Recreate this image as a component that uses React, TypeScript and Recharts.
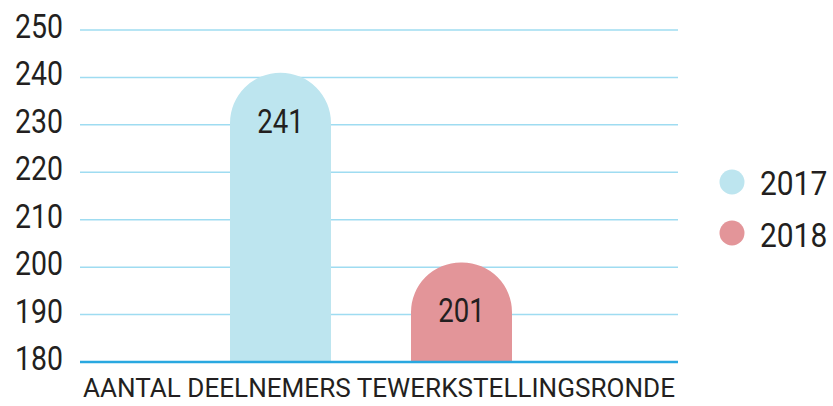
import React from 'react';
import { BarChart, Bar, XAxis, YAxis, CartesianGrid, LabelList } from 'recharts';

const categories = ['AANTAL DEELNEMERS TEWERKSTELLINGSRONDE'];
const values2017 = [241];
const values2018 = [201];
const yTicks = [180, 190, 200, 210, 220, 230, 240, 250];
const seriesNames = ['2017', '2018'];
const colors = ['#bde5ef', '#e39599'];

const data = categories.map((c, i) => ({ name: c, v2017: values2017[i], v2018: values2018[i] }));

const FONT = 'Roboto, "DejaVu Sans Condensed", sans-serif';
const TEXT = '#231f20';

const YTick = (props: any) => {
  const { y, payload } = props;
  const s = String(payload.value);
  return (
    <text x={63} y={y + 8} textAnchor="end" fontSize={33} fill={TEXT} fontFamily={FONT} textLength={s.length * 16} lengthAdjust="spacingAndGlyphs">
      {s}
    </text>
  );
};

const XLabel = (props: any) => {
  const vb = props.viewBox || {};
  const cx = vb.x + vb.width / 2;
  return (
    <text x={cx} y={397} textAnchor="middle" fontSize={25} fill={TEXT} fontFamily={FONT} textLength={592} lengthAdjust="spacingAndGlyphs">
      {categories[0]}
    </text>
  );
};

const BarValue = (props: any) => {
  const { x, y, width, value } = props;
  const s = String(value);
  return (
    <text x={x + width / 2} y={y + 60} textAnchor="middle" fontSize={33} fill={TEXT} fontFamily={FONT} textLength={s.length * 15.5} lengthAdjust="spacingAndGlyphs">
      {s}
    </text>
  );
};

export default function App() {
  return (
    <div style={{ position: 'absolute', left: 0, top: 0, width: 833, height: 406, background: '#fff' }}>
      <BarChart width={833} height={406} data={data} margin={{ top: 30, right: 155, bottom: 0, left: 0 }} barGap={80} barSize={101}>
        <CartesianGrid vertical={false} stroke="#9fdcf1" strokeWidth={1.5} />
        <XAxis
          dataKey="name"
          height={44}
          tick={false}
          tickLine={false}
          axisLine={{ stroke: '#29a8e0', strokeWidth: 2.5 }}
          padding={{ left: 0, right: 16 }}
          label={<XLabel />}
        />
        <YAxis
          width={80}
          domain={[180, 250]}
          ticks={yTicks}
          allowDataOverflow
          axisLine={false}
          tickLine={false}
          tick={<YTick />}
        />
        <Bar dataKey="v2017" name={seriesNames[0]} fill={colors[0]} radius={[50.5, 50.5, 0, 0]} isAnimationActive={false}>
          <LabelList dataKey="v2017" content={<BarValue />} />
        </Bar>
        <Bar dataKey="v2018" name={seriesNames[1]} fill={colors[1]} radius={[50.5, 50.5, 0, 0]} isAnimationActive={false}>
          <LabelList dataKey="v2018" content={<BarValue />} />
        </Bar>
      </BarChart>
      <svg width={833} height={406} style={{ position: 'absolute', left: 0, top: 0, pointerEvents: 'none' }}>
        {seriesNames.map((n, i) => (
          <g key={n}>
            <circle cx={732} cy={182 + i * 51} r={12.5} fill={colors[i]} />
            <text transform={`translate(760, ${195 + i * 52}) scale(0.88, 1)`} x={0} y={0} fontSize={34} fill={TEXT} fontFamily={FONT}>
              {n}
            </text>
          </g>
        ))}
      </svg>
    </div>
  );
}
